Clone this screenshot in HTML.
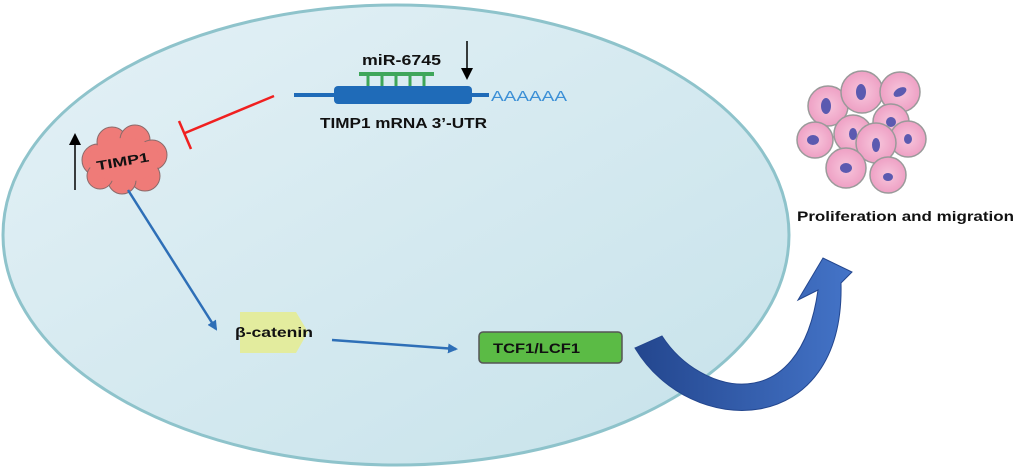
<!DOCTYPE html>
<html><head><meta charset="utf-8"><style>
html,body{margin:0;padding:0;background:#fff;}
svg{display:block;}
text{font-family:"Liberation Sans",sans-serif;font-weight:bold;}
</style></head><body>
<svg width="1020" height="469" viewBox="0 0 1020 469" xmlns="http://www.w3.org/2000/svg">
<defs>
<linearGradient id="cell" x1="0" y1="0" x2="1" y2="1">
<stop offset="0" stop-color="#e4f1f6"/><stop offset="1" stop-color="#c6e2ea"/></linearGradient>
<linearGradient id="arr" x1="0" y1="0" x2="1" y2="0">
<stop offset="0" stop-color="#23468e"/><stop offset="1" stop-color="#4474c8"/></linearGradient>
<radialGradient id="pink"><stop offset="0" stop-color="#f7c6dc"/><stop offset="1" stop-color="#eea0c4"/></radialGradient>
<marker id="ah" markerWidth="10" markerHeight="10" refX="8" refY="5" orient="auto" markerUnits="userSpaceOnUse">
<path d="M0,0 L10,5 L0,10 Z" fill="#2e6fb7"/></marker>
<marker id="bk" markerWidth="12" markerHeight="12" refX="10" refY="6" orient="auto" markerUnits="userSpaceOnUse">
<path d="M0,0 L12,6 L0,12 Z" fill="#000"/></marker>
</defs>
<ellipse cx="396" cy="235" rx="393" ry="230" fill="url(#cell)" stroke="#8ec3cb" stroke-width="3"/>

<!-- mRNA -->
<line x1="294" y1="95" x2="489" y2="95" stroke="#1f6bb8" stroke-width="4"/>
<rect x="334" y="86" width="138" height="18" rx="4" fill="#1f6bb8"/>
<rect x="359" y="72" width="75" height="4" fill="#3fa65a"/>
<g stroke="#3fa65a" stroke-width="3">
<line x1="368" y1="74" x2="368" y2="86"/><line x1="382" y1="74" x2="382" y2="86"/>
<line x1="396" y1="74" x2="396" y2="86"/><line x1="410" y1="74" x2="410" y2="86"/>
<line x1="424" y1="74" x2="424" y2="86"/></g>
<text x="362" y="65" font-size="15" textLength="79" lengthAdjust="spacingAndGlyphs" fill="#111">miR-6745</text>
<line x1="467" y1="41" x2="467" y2="78" stroke="#000" stroke-width="1.5" marker-end="url(#bk)"/>
<text x="491" y="101" font-size="15" textLength="76" lengthAdjust="spacingAndGlyphs" fill="#3b8fd6" style="font-weight:normal">AAAAAA</text>
<text x="320" y="128" font-size="15" textLength="167" lengthAdjust="spacingAndGlyphs" fill="#111">TIMP1 mRNA 3’-UTR</text>

<!-- inhibition -->
<line x1="274" y1="96" x2="185" y2="133" stroke="#f02020" stroke-width="2.5"/>
<line x1="179" y1="121" x2="191" y2="149" stroke="#f02020" stroke-width="2.5"/>

<!-- TIMP1 cloud -->
<g fill="#ef7b78" stroke="#8a6a6a" stroke-width="1">
<circle cx="98" cy="160" r="16"/><circle cx="112" cy="142" r="15"/><circle cx="135" cy="140" r="15"/>
<circle cx="152" cy="155" r="15"/><circle cx="145" cy="176" r="15"/><circle cx="122" cy="180" r="14"/>
<circle cx="100" cy="176" r="13"/></g>
<ellipse cx="124" cy="160" rx="36" ry="22" fill="#ef7b78"/>
<text x="96" y="166" font-size="13" textLength="53" lengthAdjust="spacingAndGlyphs" fill="#111" transform="rotate(-10 122 160)">TIMP1</text>
<line x1="75" y1="190" x2="75" y2="135" stroke="#000" stroke-width="1.5" marker-end="url(#bk)"/>

<!-- arrows -->
<line x1="128" y1="190" x2="216" y2="329" stroke="#2e6fb7" stroke-width="2.5" marker-end="url(#ah)"/>
<line x1="332" y1="340" x2="456" y2="349" stroke="#2e6fb7" stroke-width="2.5" marker-end="url(#ah)"/>

<!-- beta-catenin -->
<path d="M240,312 L296,312 L308,332 L296,353 L240,353 Z" fill="#e3ec9e"/>
<text x="235" y="337" font-size="14" textLength="78" lengthAdjust="spacingAndGlyphs" fill="#111">β-catenin</text>

<!-- TCF -->
<rect x="479" y="332" width="143" height="31" rx="4" fill="#5bbb45" stroke="#555" stroke-width="1.5"/>
<text x="493" y="353" font-size="14" textLength="87" lengthAdjust="spacingAndGlyphs" fill="#111">TCF1/LCF1</text>

<!-- curved arrow -->
<path d="M635,348 L662,336 C700,395 800,420 818,290 L798,300 L823,258 L852,272 L841,283 C845,440 690,440 635,348 Z" fill="url(#arr)" stroke="#23468e" stroke-width="1"/>

<!-- cells -->
<g stroke="#9a9a9a" stroke-width="1.5">
<circle cx="828" cy="106" r="20" fill="url(#pink)"/>
<circle cx="862" cy="92" r="21" fill="url(#pink)"/>
<circle cx="900" cy="92" r="20" fill="url(#pink)"/>
<circle cx="891" cy="122" r="18" fill="url(#pink)"/>
<circle cx="815" cy="140" r="18" fill="url(#pink)"/>
<circle cx="853" cy="134" r="19" fill="url(#pink)"/>
<circle cx="908" cy="139" r="18" fill="url(#pink)"/>
<circle cx="876" cy="143" r="20" fill="url(#pink)"/>
<circle cx="846" cy="168" r="20" fill="url(#pink)"/>
<circle cx="888" cy="175" r="18" fill="url(#pink)"/>
</g>
<g fill="#5b5ab0">
<ellipse cx="826" cy="106" rx="5" ry="8"/><ellipse cx="861" cy="92" rx="5" ry="8"/>
<ellipse cx="900" cy="92" rx="7" ry="4" transform="rotate(-30 900 92)"/>
<ellipse cx="891" cy="122" rx="5" ry="5"/><ellipse cx="813" cy="140" rx="6" ry="5"/>
<ellipse cx="853" cy="134" rx="4" ry="6"/><ellipse cx="908" cy="139" rx="4" ry="5"/>
<ellipse cx="876" cy="145" rx="4" ry="7"/><ellipse cx="846" cy="168" rx="6" ry="5"/>
<ellipse cx="888" cy="177" rx="5" ry="4"/></g>
<text x="797" y="221" font-size="14" textLength="217" lengthAdjust="spacingAndGlyphs" fill="#111">Proliferation and migration</text>
</svg>
</body></html>
